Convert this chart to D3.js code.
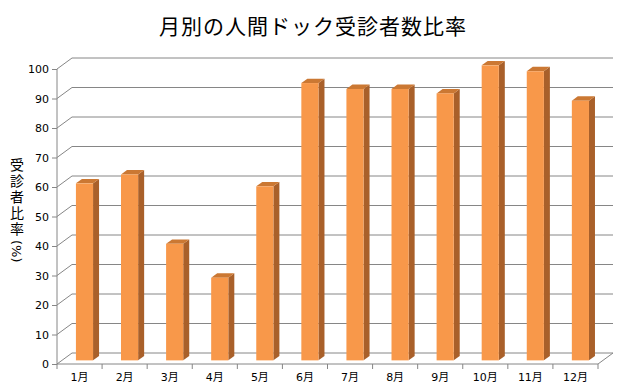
<!DOCTYPE html>
<html lang="ja">
<head>
<meta charset="UTF-8">
<title>月別の人間ドック受診者数比率</title>
<style>
  body { margin: 0; background: #fff; }
  text { font-family: "DejaVu Sans", "Noto Sans CJK JP", sans-serif; fill: #000; }
</style>
</head>
<body>
<script src="https://cdn.jsdelivr.net/npm/d3@7"></script>
<script>
    var months = ["1月","2月","3月","4月","5月","6月","7月","8月","9月","10月","11月","12月"];
    var rates = [60, 63, 39.5, 28, 59, 94, 92, 92, 90.5, 100, 98, 88];
    var yTicks = [0,10,20,30,40,50,60,70,80,90,100];

    var width = 628, height = 392;
    var left = 57, right = 598, floorY = 364, topY = 69;
    // 3d depth offset of the back wall
    var depthX = 15, depthY = -11;
    // bars sit between these depth fractions
    var d0 = 0.33, d1 = 0.73;

    var svg = d3.select('body').append('svg').attr('width', width).attr('height', height);

    var x = d3.scaleBand().domain(months).range([left, right]).paddingInner(0.62).paddingOuter(0.31);
    var y = d3.scaleLinear().domain([0, 100]).range([floorY, topY]);

    // title
    svg.append('text').attr('x', 313).attr('y', 34).attr('text-anchor', 'middle')
       .style('font-family', '"Noto Sans CJK JP", sans-serif')
       .style('font-size', '21px').style('letter-spacing', '1px')
       .text('月別の人間ドック受診者数比率');

    // back wall gridlines + side wall diagonals
    var grid = svg.append('g').attr('stroke', '#868686').attr('stroke-width', 1).attr('fill', 'none');
    grid.selectAll('path.gl').data(yTicks).enter().append('path')
        .attr('d', function(v){
            var yy = y(v);
            return 'M' + left + ',' + yy + 'L' + (left + depthX) + ',' + (yy + depthY) + 'L' + (right + depthX) + ',' + (yy + depthY);
        });
    // floor front edge and right edge
    grid.append('path')
        .attr('d', 'M' + left + ',' + floorY + 'L' + right + ',' + floorY + 'L' + (right + depthX) + ',' + (floorY + depthY));

    // bars
    var bars = svg.append('g');
    var bw = x.bandwidth();
    var sx = (d1 - d0) * depthX, sy = (d1 - d0) * depthY;
    rates.forEach(function(v, i){
        var xl = x(months[i]) + d0 * depthX;
        var xr = xl + bw;
        var yb = floorY + d0 * depthY;
        var yt = yb - (floorY - y(v));
        // side
        bars.append('path').attr('fill', '#A9602A')
            .attr('d', 'M' + xr + ',' + yt + 'L' + (xr + sx) + ',' + (yt + sy) + 'L' + (xr + sx) + ',' + (yb + sy) + 'L' + xr + ',' + yb + 'Z');
        // top
        bars.append('path').attr('fill', '#CB7833')
            .attr('d', 'M' + xl + ',' + yt + 'L' + (xl + sx) + ',' + (yt + sy) + 'L' + (xr + sx) + ',' + (yt + sy) + 'L' + xr + ',' + yt + 'Z');
        // front
        bars.append('rect').attr('fill', '#F8984A')
            .attr('x', xl).attr('y', yt).attr('width', bw).attr('height', yb - yt);
    });

    // y axis
    var yAxis = d3.axisLeft(y).tickValues(yTicks).tickSize(5).tickPadding(3);
    var gy = svg.append('g').attr('transform', 'translate(' + left + ',0)').call(yAxis);
    gy.selectAll('path, line').attr('stroke', '#868686');
    gy.selectAll('text').style('font-size', '11px').attr('fill', '#000');
    gy.select('.domain').attr('d', 'M0,' + floorY + 'V' + topY);

    // x axis
    var xAxis = d3.axisBottom(x).tickSize(0).tickPadding(9);
    var gx = svg.append('g').attr('transform', 'translate(0,' + floorY + ')').call(xAxis);
    gx.select('.domain').remove();
    gx.selectAll('text').style('font-size', '11px').attr('fill', '#000');
    // tick marks on band boundaries
    var bounds = months.map(function(m){ return x(m) - x.step() * 0.31; }).concat([right]);
    gx.selectAll('line.bt').data(bounds).enter().append('line').attr('class', 'bt')
      .attr('x1', function(d){ return d; }).attr('x2', function(d){ return d; })
      .attr('y1', 0).attr('y2', 5).attr('stroke', '#868686');

    // y axis title: upright kanji stacked in one text, then "(%)" turned sideways
    var titleChars = '受診者比率'.split('');
    var ylab = svg.append('g').style('font-family', '"Noto Sans CJK JP", sans-serif');
    ylab.append('text').style('font-size', '14px').attr('text-anchor', 'middle')
      .selectAll('tspan').data(titleChars).enter().append('tspan')
      .attr('x', 17).attr('y', function(d, i){ return 170 + i * 16; })
      .text(function(d){ return d; });
    ylab.append('text').attr('transform', 'translate(12,240) rotate(90)')
      .style('font-size', '13px')
      .text('(%)');
</script>
</body>
</html>
